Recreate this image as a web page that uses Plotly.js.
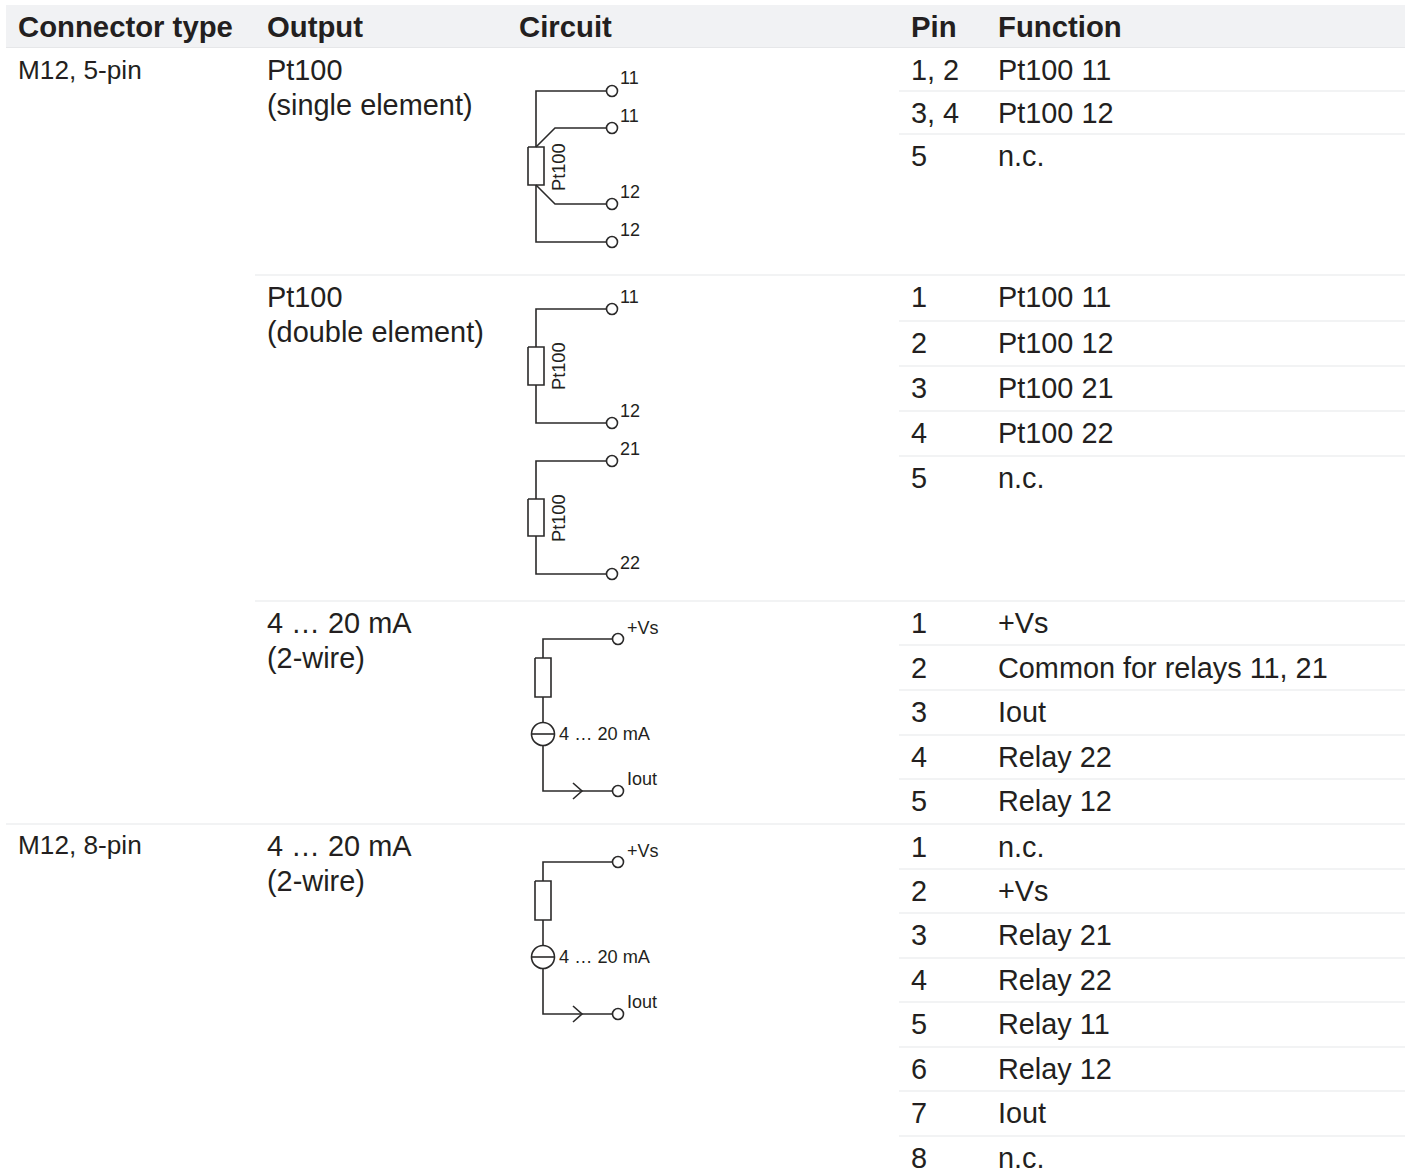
<!DOCTYPE html>
<html>
<head>
<meta charset="utf-8">
<script src="https://cdn.plot.ly/plotly-3.0.1.min.js"></script>
<style>html,body{margin:0;padding:0;background:#fff;overflow:hidden}#chart{width:1410px;height:1173px}</style>
</head>
<body>
<div id="chart"></div>
<script>
// ---------- table content ----------
var headers = ["Connector type", "Output", "Circuit", "Pin", "Function"];
var connectorLabels = ["M12, 5-pin", "M12, 8-pin"];
var outputLabels = ["Pt100", "(single element)", "Pt100", "(double element)", "4 … 20 mA", "(2-wire)", "4 … 20 mA", "(2-wire)"];
var pins = ["1, 2","3, 4","5", "1","2","3","4","5", "1","2","3","4","5", "1","2","3","4","5","6","7","8"];
var functions = ["Pt100 11","Pt100 12","n.c.",
  "Pt100 11","Pt100 12","Pt100 21","Pt100 22","n.c.",
  "+Vs","Common for relays 11, 21","Iout","Relay 22","Relay 12",
  "n.c.","+Vs","Relay 21","Relay 22","Relay 11","Relay 12","Iout","n.c."];

// ---------- table geometry (axis units = pixels) ----------
var headerY = 26.4;
var connectorY = [70, 845];
var outputY = [70, 105, 297, 332, 623, 658, 846, 881];
var pinY = [70,113,156, 297,343,388,433,478, 623,668,712,757,801, 847,891,935,980,1024,1069,1113,1158];
var colX = [18, 267, 519, 911, 998];
var pinRules = [91,134, 321,366,411,456, 645,690,735,779, 869,913,958,1002,1047,1091,1136];
var outputRules = [275, 601];
var fullRules = [824];

// ---------- circuits ----------
var wires = [
  // single element
  [[536,536,606],[147,91,91]], [[536,555,606],[147,128,128]],
  [[536,555,606],[185,204,204]], [[536,536,606],[185,242,242]],
  // double element
  [[606,536,536],[309,309,347]], [[536,536,606],[385,423,423]],
  [[606,536,536],[461,461,499]], [[536,536,606],[536,574,574]],
  // 4...20 mA, 5-pin
  [[612,543,543],[639,639,658]], [[543,543],[697,723]], [[543,543,612],[746,791,791]],
  [[532,554],[734,734]], [[573,582,573],[783,791,799]],
  // 4...20 mA, 8-pin
  [[612,543,543],[862,862,881]], [[543,543],[920,946]], [[543,543,612],[969,1014,1014]],
  [[532,554],[957,957]], [[573,582,573],[1006,1014,1022]]
];
var resistors = [
  [[528,544,544,528,528],[147,147,185,185,147]],
  [[528,544,544,528,528],[347,347,385,385,347]],
  [[528,544,544,528,528],[499,499,536,536,499]],
  [[535,551,551,535,535],[658,658,697,697,658]],
  [[535,551,551,535,535],[881,881,920,920,881]]
];
var terminalX = [612,612,612,612, 612,612,612,612, 618,618, 618,618];
var terminalY = [91,128,204,242, 309,423,461,574, 639,791, 862,1014];
var sourceX = [543,543];
var sourceY = [734,957];
var terminalLabels = ["11","11","12","12","11","12","21","22","+Vs","Iout","+Vs","Iout"];
var terminalLabelX = [620,620,620,620,620,620,620,620,627,627,627,627];
var terminalLabelY = [78,116,192,230,297,411,449,563,627.5,779,850.5,1002];
var elementLabels = ["Pt100","Pt100","Pt100"];
var elementX = [559,559,559];
var elementY = [167,366,518];
var sourceLabels = ["4 … 20 mA","4 … 20 mA"];
var sourceLabelX = [559,559];
var sourceLabelY = [734,957];

// ---------- styles ----------
var INK = "#231f20", RULE = "#e6e7e9", WIRE = "#2b2a2a";
var FONT = '"Liberation Sans", Arial, sans-serif';

var annotations = [];
function label(text, x, y, size, bold, angle, anchor) {
  annotations.push({
    text: bold ? "<b>" + text + "</b>" : text,
    x: x, y: y, xref: "x", yref: "y",
    xanchor: anchor || "left", yanchor: "middle",
    showarrow: false, textangle: angle || 0,
    borderpad: 0, borderwidth: 0,
    font: {family: FONT, size: size, color: INK}
  });
}
headers.forEach(function (t, i) { label(t, colX[i], headerY, 29.3, true); });
connectorLabels.forEach(function (t, i) { label(t, colX[0], connectorY[i], 26.2); });
outputLabels.forEach(function (t, i) { label(t, colX[1], outputY[i], 28.9); });
pins.forEach(function (t, i) { label(t, colX[3], pinY[i], 28.9); });
functions.forEach(function (t, i) { label(t, colX[4] - 0.5, pinY[i], 28.85); });
terminalLabels.forEach(function (t, i) { label(t, terminalLabelX[i], terminalLabelY[i], 18); });
elementLabels.forEach(function (t, i) { label(t, elementX[i], elementY[i], 18.2, false, -90, "center"); });
sourceLabels.forEach(function (t, i) { label(t, sourceLabelX[i], sourceLabelY[i], 18.2); });

var shapes = [{type:"rect", xref:"x", yref:"y", x0:6, x1:1405, y0:5, y1:47, fillcolor:"#f1f2f4", line:{width:0}, layer:"below"},
              {type:"line", xref:"x", yref:"y", x0:6, x1:1405, y0:47.5, y1:47.5, line:{color:RULE, width:1.2}, layer:"below"}];
function rule(x0, y) { shapes.push({type:"line", xref:"x", yref:"y", x0:x0, x1:1405, y0:y, y1:y, line:{color:RULE, width:1.2}, layer:"below"}); }
pinRules.forEach(function (y) { rule(899, y); });
outputRules.forEach(function (y) { rule(255, y); });
fullRules.forEach(function (y) { rule(6, y); });

var traces = [];
wires.concat(resistors).forEach(function (w) {
  traces.push({type:"scatter", mode:"lines", x:w[0], y:w[1], line:{color:WIRE, width:1.6}, hoverinfo:"skip", showlegend:false});
});
traces.unshift({type:"scatter", mode:"markers", x:sourceX, y:sourceY,
  marker:{symbol:"circle", size:23, color:"#fff", line:{color:WIRE, width:1.6}}, hoverinfo:"skip", showlegend:false});
traces.push({type:"scatter", mode:"markers", x:terminalX, y:terminalY,
  marker:{symbol:"circle", size:11, color:"#fff", line:{color:WIRE, width:1.6}}, hoverinfo:"skip", showlegend:false});

var layout = {
  width: 1410, height: 1173,
  margin: {l:0, r:0, t:0, b:0},
  paper_bgcolor: "#fff", plot_bgcolor: "#fff",
  showlegend: false,
  xaxis: {range:[0,1410], visible:false, fixedrange:true},
  yaxis: {range:[1173,0], visible:false, fixedrange:true},
  shapes: shapes, annotations: annotations
};
Plotly.newPlot("chart", traces, layout, {displayModeBar:false, staticPlot:true});
</script>
</body>
</html>
